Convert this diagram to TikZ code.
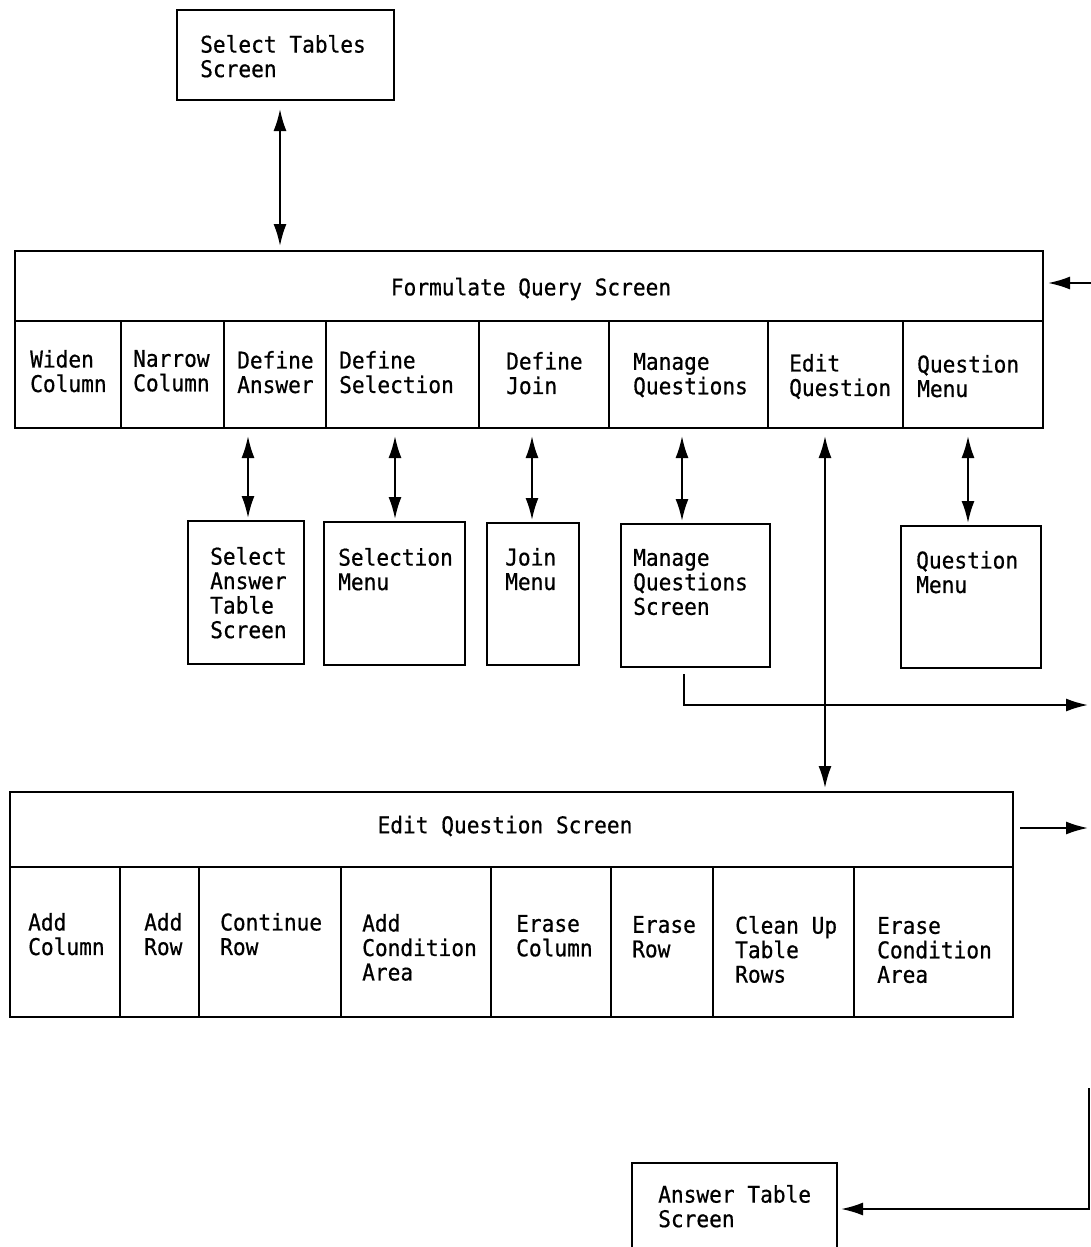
\documentclass[tikz,border=0pt]{standalone}
\usepackage{fontspec}
\newfontfamily\dmono[FakeStretch=0.92,FakeBold=0.6]{DejaVu Sans Mono}
\usetikzlibrary{arrows.meta,calc}
\begin{document}
\begin{tikzpicture}[x=1pt,y=-1pt,
 boxst/.style={draw, line width=1.6pt, inner sep=0pt, outer sep=0pt, anchor=north west},
 txt/.style={font=\dmono\fontsize{23}{24.5}\selectfont, align=left, inner sep=0pt, anchor=north west},
 ttl/.style={font=\dmono\fontsize{23}{24.5}\selectfont, inner sep=0pt},
 link/.style={line width=2pt},
 arr/.style={link, -{Latex[length=22pt,width=13pt]}},
 dbl/.style={link, {Latex[length=22pt,width=13pt]}-{Latex[length=22pt,width=13pt]}}]
\useasboundingbox (0,0) rectangle (1091,1247);

% Select Tables Screen
\node[boxst, minimum width=217, minimum height=90] (sts) at (177,10) {};
\node[txt] (stsT) at (200,{44-9.2}) {Select Tables\\Screen};

% Formulate Query Screen
\node[boxst, minimum width=1028, minimum height=70] (fqt) at (15,251) {};
\node[ttl] (fqtT) at (531,289) {Formulate Query Screen};
\node[boxst, minimum width=106, minimum height=107] (widen) at (15,321) {};
\node[boxst, minimum width=103, minimum height=107] (narrow) at (121,321) {};
\node[boxst, minimum width=102, minimum height=107] (ans) at (224,321) {};
\node[boxst, minimum width=153, minimum height=107] (sel) at (326,321) {};
\node[boxst, minimum width=130, minimum height=107] (join) at (479,321) {};
\node[boxst, minimum width=159, minimum height=107] (mqc) at (609,321) {};
\node[boxst, minimum width=135, minimum height=107] (eqc) at (768,321) {};
\node[boxst, minimum width=140, minimum height=107] (qmc) at (903,321) {};
\node[txt] (widenT) at (30,{359-9.2}) {Widen\\Column};
\node[txt] (narrowT) at (133,{359-9.2}) {Narrow\\Column};
\node[txt] (ansT) at (237,{360-9.2}) {Define\\Answer};
\node[txt] (selT) at (339,{360-9.2}) {Define\\Selection};
\node[txt] (joinT) at (506,{361-9.2}) {Define\\Join};
\node[txt] (mqcT) at (633,{362-9.2}) {Manage\\Questions};
\node[txt] (eqcT) at (789,{363-9.2}) {Edit\\Question};
\node[txt] (qmcT) at (917,{364-9.2}) {Question\\Menu};

% second-level boxes
\node[boxst, minimum width=116, minimum height=143] (sat) at (188,521) {};
\node[boxst, minimum width=141, minimum height=143] (selm) at (324,522) {};
\node[boxst, minimum width=92, minimum height=142] (joinm) at (487,523) {};
\node[boxst, minimum width=149, minimum height=143] (mqs) at (621,524) {};
\node[boxst, minimum width=140, minimum height=142] (qm) at (901,526) {};
\node[txt] (satT) at (210,{556-9.2}) {Select\\Answer\\Table\\Screen};
\node[txt] (selmT) at (338,{557-9.2}) {Selection\\Menu};
\node[txt] (joinmT) at (505,{557-9.2}) {Join\\Menu};
\node[txt] (mqsT) at (633,{558-9.2}) {Manage\\Questions\\Screen};
\node[txt] (qmT) at (916,{560-9.2}) {Question\\Menu};

% Edit Question Screen
\node[boxst, minimum width=1003, minimum height=75] (eqt) at (10,792) {};
\node[ttl] (eqtT) at (505,826) {Edit Question Screen};
\node[boxst, minimum width=110, minimum height=150] (addcol) at (10,867) {};
\node[boxst, minimum width=79, minimum height=150] (addrow) at (120,867) {};
\node[boxst, minimum width=142, minimum height=150] (controw) at (199,867) {};
\node[boxst, minimum width=150, minimum height=150] (addcond) at (341,867) {};
\node[boxst, minimum width=120, minimum height=150] (erasecol) at (491,867) {};
\node[boxst, minimum width=102, minimum height=150] (eraserow) at (611,867) {};
\node[boxst, minimum width=141, minimum height=150] (clean) at (713,867) {};
\node[boxst, minimum width=159, minimum height=150] (erasecond) at (854,867) {};
\node[txt] (addcolT) at (28,{922-9.2}) {Add\\Column};
\node[txt] (addrowT) at (144,{922-9.2}) {Add\\Row};
\node[txt] (controwT) at (220,{922-9.2}) {Continue\\Row};
\node[txt] (addcondT) at (362,{923-9.2}) {Add\\Condition\\Area};
\node[txt] (erasecolT) at (516,{924-9.2}) {Erase\\Column};
\node[txt] (eraserowT) at (632,{925-9.2}) {Erase\\Row};
\node[txt] (cleanT) at (735,{925-9.2}) {Clean Up\\Table\\Rows};
\node[txt] (erasecondT) at (877,{926-9.2}) {Erase\\Condition\\Area};

% Answer Table Screen
\node[boxst, minimum width=205, minimum height=100] (ats) at (632,1163) {};
\node[txt] (atsT) at (658,{1194-9.2}) {Answer Table\\Screen};

% connector columns
\coordinate (c1) at (280,0);
\coordinate (c2) at (248,0);
\coordinate (c3) at (395,0);
\coordinate (c4) at (532,0);
\coordinate (c5) at (682,0);
\coordinate (c6) at (968,0);
\coordinate (c7) at (825,0);

\draw[dbl, shorten <=9pt, shorten >=5pt] (c1 |- sts.south) -- (c1 |- fqt.north);
\draw[dbl, shorten <=8pt, shorten >=3pt] (c2 |- ans.south) -- (c2 |- sat.north);
\draw[dbl, shorten <=8pt, shorten >=3pt] (c3 |- sel.south) -- (c3 |- selm.north);
\draw[dbl, shorten <=8pt, shorten >=3pt] (c4 |- join.south) -- (c4 |- joinm.north);
\draw[dbl, shorten <=8pt, shorten >=3pt] (c5 |- mqc.south) -- (c5 |- mqs.north);
\draw[dbl, shorten <=8pt, shorten >=3pt] (c6 |- qmc.south) -- (c6 |- qm.north);
\draw[dbl, shorten <=8pt, shorten >=4pt] (c7 |- eqc.south) -- (c7 |- eqt.north);

% right-hand connectors
\coordinate (r1) at (1091,283);
\draw[arr, shorten >=5pt] (r1) -- (r1 -| fqt.east);
\coordinate (m1) at (684,705);
\coordinate (m2) at (1088,705);
\draw[arr, shorten <=7pt] (m1 |- mqs.south) -- (m1) -- (m2);
\coordinate (e1) at (1088,828);
\draw[arr, shorten <=7pt] (e1 -| eqt.east) -- (e1);
\coordinate (b1) at (1089,1088);
\coordinate (b2) at (1089,1209);
\draw[arr, shorten >=4pt] (b1) -- (b2) -- (b2 -| ats.east);
\end{tikzpicture}
\end{document}
